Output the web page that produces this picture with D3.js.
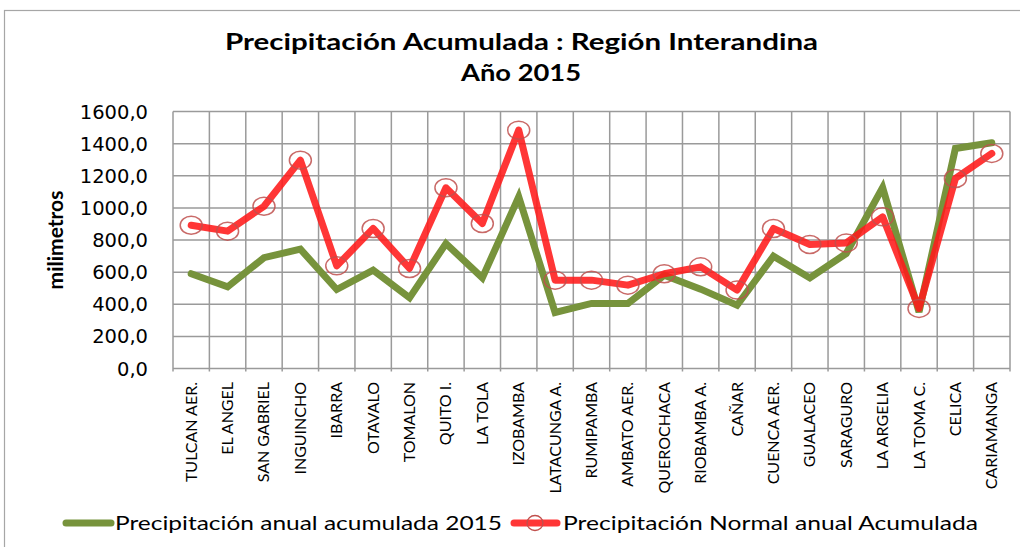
<!DOCTYPE html>
<html>
<head>
<meta charset="utf-8">
<script src="https://cdn.jsdelivr.net/npm/d3@7"></script>
<style>
  body { margin: 0; background: #fff; }
  svg { display: block; }
</style>
</head>
<body>
<svg id="chart" width="1020" height="547"></svg>
<script>
// estaciones de la region interandina
var stations = ['TULCAN AER.', 'EL ANGEL', 'SAN GABRIEL', 'INGUINCHO', 'IBARRA', 'OTAVALO',
  'TOMALON', 'QUITO I.', 'LA TOLA', 'IZOBAMBA', 'LATACUNGA A.', 'RUMIPAMBA', 'AMBATO AER.',
  'QUEROCHACA', 'RIOBAMBA A.', 'CAÑAR', 'CUENCA AER.', 'GUALACEO', 'SARAGURO', 'LA ARGELIA',
  'LA TOMA C.', 'CELICA', 'CARIAMANGA'];

var acum2015 = [590, 508, 690, 743, 492, 612, 440, 778, 564, 1069, 349, 405, 405,
  581, 494, 394, 699, 564, 716, 1127, 352, 1370, 1405];

var normal = [892, 855, 1010, 1297, 639, 872, 623, 1125, 903, 1484, 550, 550, 519,
  590, 633, 488, 872, 772, 782, 944, 374, 1183, 1339];

var yTicks = [0, 200, 400, 600, 800, 1000, 1200, 1400, 1600];

var svg = d3.select('#chart');
var pLeft = 173, pRight = 1010, pTop = 111.5, pBottom = 368.5;
var font = 'Lato, Liberation Sans, sans-serif';

// marco del grafico
svg.append('rect')
  .attr('x', 4.5).attr('y', 10.5)
  .attr('width', 1030).attr('height', 560)
  .attr('fill', 'none').attr('stroke', '#a6a6a6').attr('stroke-width', 1.2);

var x = d3.scaleBand().domain(stations).range([pLeft, pRight]);
var y = d3.scaleLinear().domain([0, 1600]).range([pBottom, pTop]);

// cuadricula horizontal
svg.append('g').selectAll('line').data(yTicks).enter().append('line')
  .attr('x1', pLeft).attr('x2', pRight)
  .attr('y1', d => y(d)).attr('y2', d => y(d))
  .attr('stroke', '#9a9a9a').attr('stroke-width', 1.5);

// cuadricula vertical (limites de categoria)
var bounds = stations.map(d => x(d)).concat([pRight]);
svg.append('g').selectAll('line').data(bounds).enter().append('line')
  .attr('x1', d => d).attr('x2', d => d)
  .attr('y1', pTop).attr('y2', pBottom + 3)
  .attr('stroke', '#9a9a9a').attr('stroke-width', 1.5);

// etiquetas eje y
var fmt = d => d3.format('.1f')(d).replace('.', ',');
svg.append('g').selectAll('text').data(yTicks).enter().append('text')
  .attr('x', 148).attr('y', d => y(d) + 7)
  .attr('text-anchor', 'end')
  .style('font-family', 'DejaVu Sans, Verdana, sans-serif')
  .style('font-size', '19.5px').attr('fill', '#000')
  .text(fmt);

svg.append('text')
  .attr('transform', 'translate(63,240) rotate(-90)')
  .attr('text-anchor', 'middle')
  .style('font-family', font)
  .style('font-weight', 'bold').style('font-size', '21px')
  .text('milimetros');

// etiquetas eje x
svg.append('g').selectAll('text').data(stations).enter().append('text')
  .attr('transform', d => 'translate(' + (x(d) + x.bandwidth() / 2 + 5.5) + ',382) rotate(-90)')
  .attr('text-anchor', 'end')
  .style('font-family', font)
  .style('font-size', '16px')
  .text(d => d);

var cx = (d, i) => x(stations[i]) + x.bandwidth() / 2;
var line = d3.line().x((d, i) => cx(d, i)).y(d => y(d));

svg.append('path').datum(acum2015)
  .attr('d', line).attr('fill', 'none')
  .attr('stroke', '#77933c').attr('stroke-width', 7)
  .attr('stroke-linejoin', 'miter').attr('stroke-linecap', 'round');

svg.append('path').datum(normal)
  .attr('d', line).attr('fill', 'none')
  .attr('stroke', '#ff1a1a').attr('stroke-opacity', 0.88).attr('stroke-width', 7)
  .attr('stroke-linejoin', 'round').attr('stroke-linecap', 'round');

svg.append('g').selectAll('ellipse').data(normal).enter().append('ellipse')
  .attr('cx', cx).attr('cy', d => y(d))
  .attr('rx', 11).attr('ry', 9)
  .attr('fill', 'none').attr('stroke', '#c0504d').attr('stroke-opacity', 0.85)
  .attr('stroke-width', 1.5);

// titulo
var title = svg.append('g')
  .style('font-family', font)
  .style('font-weight', 'bold').style('font-size', '23px')
  .style('white-space', 'pre');
title.append('text').attr('x', 225).attr('y', 50)
  .attr('textLength', 593).attr('lengthAdjust', 'spacingAndGlyphs')
  .text('Precipitación Acumulada :  Región Interandina');
title.append('text').attr('x', 461).attr('y', 81)
  .attr('textLength', 120).attr('lengthAdjust', 'spacingAndGlyphs')
  .text('Año 2015');

// leyenda
var lg = svg.append('g')
  .style('font-family', font)
  .style('font-size', '19px');
lg.append('line').attr('x1', 66).attr('x2', 111).attr('y1', 523).attr('y2', 523)
  .attr('stroke', '#77933c').attr('stroke-width', 7).attr('stroke-linecap', 'round');
lg.append('text').attr('x', 115).attr('y', 530)
  .attr('textLength', 387).attr('lengthAdjust', 'spacingAndGlyphs')
  .text('Precipitación anual acumulada 2015');
lg.append('line').attr('x1', 514).attr('x2', 557).attr('y1', 523).attr('y2', 523)
  .attr('stroke', '#ff1a1a').attr('stroke-opacity', 0.88).attr('stroke-width', 7).attr('stroke-linecap', 'round');
lg.append('ellipse').attr('cx', 535).attr('cy', 523).attr('rx', 8).attr('ry', 7.5)
  .attr('fill', 'none').attr('stroke', '#c0504d').attr('stroke-width', 1.3);
lg.append('text').attr('x', 563).attr('y', 530)
  .attr('textLength', 415).attr('lengthAdjust', 'spacingAndGlyphs')
  .text('Precipitación Normal anual Acumulada');
</script>
</body>
</html>
